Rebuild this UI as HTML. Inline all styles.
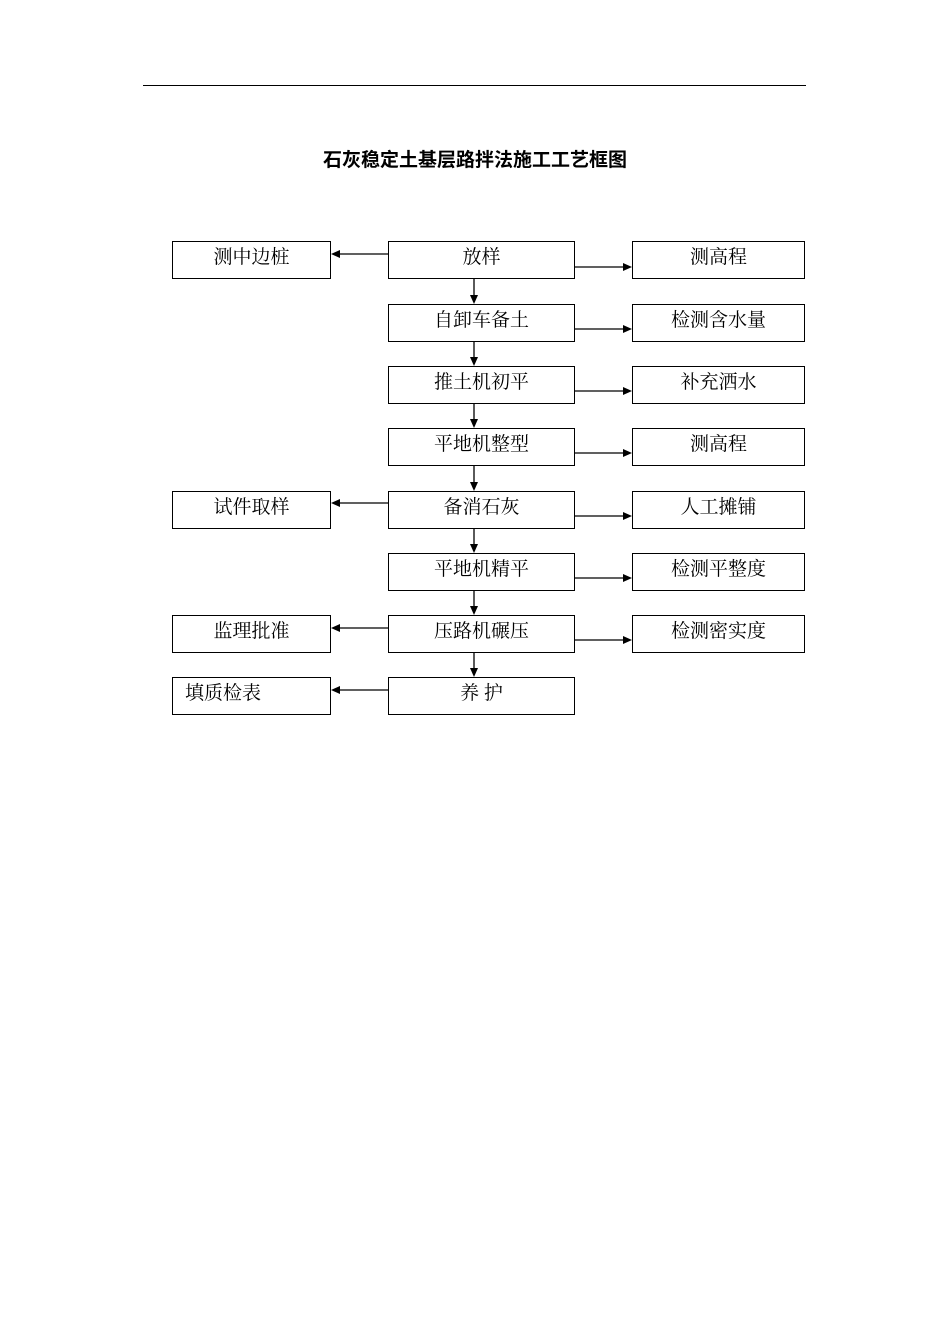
<!DOCTYPE html>
<html><head><meta charset="utf-8"><style>
body{margin:0;width:950px;height:1344px;background:#fff;position:relative;font-family:"Liberation Serif","Noto Serif CJK SC","Noto Sans CJK SC",serif;}
.b{position:absolute;box-sizing:border-box;border:1.3px solid #000;height:38px;font-size:19px;line-height:32px;text-align:center;color:#000}
.t{position:absolute;top:145px;left:0;width:950px;text-align:center;font-size:19px;font-weight:bold;font-family:"Liberation Sans","Noto Sans CJK SC",sans-serif}
</style></head><body>
<div style="position:absolute;left:143px;top:85px;width:663px;height:1px;background:#000"></div>
<div class="t">石灰稳定土基层路拌法施工工艺框图</div>
<div class="b" style="left:172px;top:241px;width:159px">测中边桩</div>
<div class="b" style="left:388px;top:241px;width:187px">放样</div>
<div class="b" style="left:632px;top:241px;width:173px">测高程</div>
<div class="b" style="left:388px;top:304px;width:187px">自卸车备土</div>
<div class="b" style="left:632px;top:304px;width:173px">检测含水量</div>
<div class="b" style="left:388px;top:366px;width:187px">推土机初平</div>
<div class="b" style="left:632px;top:366px;width:173px">补充洒水</div>
<div class="b" style="left:388px;top:428px;width:187px">平地机整型</div>
<div class="b" style="left:632px;top:428px;width:173px">测高程</div>
<div class="b" style="left:172px;top:491px;width:159px">试件取样</div>
<div class="b" style="left:388px;top:491px;width:187px">备消石灰</div>
<div class="b" style="left:632px;top:491px;width:173px">人工摊铺</div>
<div class="b" style="left:388px;top:553px;width:187px">平地机精平</div>
<div class="b" style="left:632px;top:553px;width:173px">检测平整度</div>
<div class="b" style="left:172px;top:615px;width:159px">监理批准</div>
<div class="b" style="left:388px;top:615px;width:187px">压路机碾压</div>
<div class="b" style="left:632px;top:615px;width:173px">检测密实度</div>
<div class="b" style="left:172px;top:677px;width:159px;text-align:left;padding-left:12px">填质检表</div>
<div class="b" style="left:388px;top:677px;width:187px">养 护</div>
<svg width="950" height="1344" style="position:absolute;left:0;top:0" stroke="#000" stroke-width="1.3">
<g fill="#000">
<line x1="388" y1="254" x2="338" y2="254"/><polygon points="331,254 340,250 340,258" stroke="none"/>
<line x1="388" y1="503" x2="338" y2="503"/><polygon points="331,503 340,499 340,507" stroke="none"/>
<line x1="388" y1="628" x2="338" y2="628"/><polygon points="331,628 340,624 340,632" stroke="none"/>
<line x1="388" y1="690" x2="338" y2="690"/><polygon points="331,690 340,686 340,694" stroke="none"/>
<line x1="575" y1="267" x2="624" y2="267"/><polygon points="632,267 623,263 623,271" stroke="none"/>
<line x1="575" y1="329" x2="624" y2="329"/><polygon points="632,329 623,325 623,333" stroke="none"/>
<line x1="575" y1="391" x2="624" y2="391"/><polygon points="632,391 623,387 623,395" stroke="none"/>
<line x1="575" y1="453" x2="624" y2="453"/><polygon points="632,453 623,449 623,457" stroke="none"/>
<line x1="575" y1="516" x2="624" y2="516"/><polygon points="632,516 623,512 623,520" stroke="none"/>
<line x1="575" y1="578" x2="624" y2="578"/><polygon points="632,578 623,574 623,582" stroke="none"/>
<line x1="575" y1="640" x2="624" y2="640"/><polygon points="632,640 623,636 623,644" stroke="none"/>
<line x1="474" y1="279" x2="474" y2="296"/><polygon points="474,304 470,295 478,295" stroke="none"/>
<line x1="474" y1="342" x2="474" y2="358"/><polygon points="474,366 470,357 478,357" stroke="none"/>
<line x1="474" y1="404" x2="474" y2="420"/><polygon points="474,428 470,419 478,419" stroke="none"/>
<line x1="474" y1="466" x2="474" y2="483"/><polygon points="474,491 470,482 478,482" stroke="none"/>
<line x1="474" y1="529" x2="474" y2="545"/><polygon points="474,553 470,544 478,544" stroke="none"/>
<line x1="474" y1="591" x2="474" y2="607"/><polygon points="474,615 470,606 478,606" stroke="none"/>
<line x1="474" y1="653" x2="474" y2="669"/><polygon points="474,677 470,668 478,668" stroke="none"/>
</g></svg>
</body></html>
